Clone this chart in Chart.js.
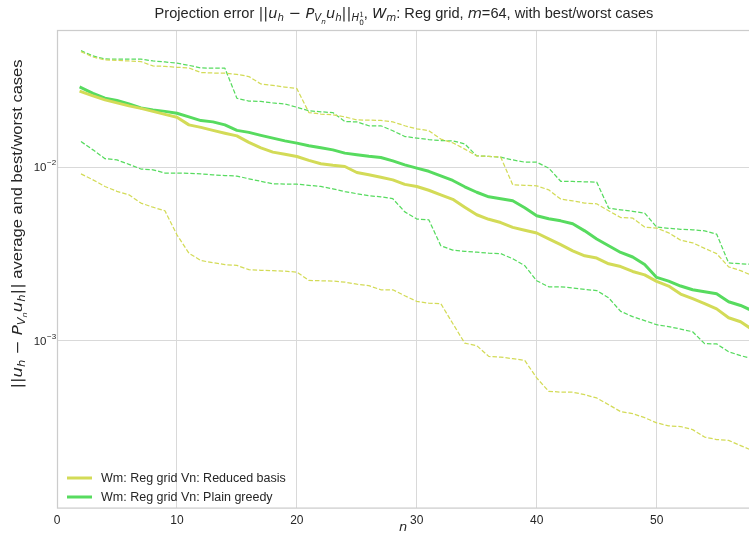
<!DOCTYPE html>
<html><head><meta charset="utf-8">
<script src="https://cdn.jsdelivr.net/npm/chart.js@4.4.0/dist/chart.umd.min.js"></script>
<style>html,body{margin:0;padding:0;background:#fff}#wrap{width:749px;height:534px}</style>
</head><body><div id="wrap"><canvas id="c" width="749" height="534"></canvas></div>
<script>
// ---- data ----
const nValues = [2,3,4,5,6,7,8,9,10,11,12,13,14,15,16,17,18,19,20,21,22,23,24,25,26,27,28,29,30,31,32,33,34,35,36,37,38,39,40,41,42,43,44,45,46,47,48,49,50,51,52,53,54,55,56,57,58];
const rbAvg = [0.0272,0.02569,0.02437,0.02342,0.02251,0.02178,0.02093,0.02011,0.01937,
  0.0175,0.01693,0.01627,0.01568,0.01513,0.01388,0.01291,0.0122,0.01185,0.01151,
  0.01094,0.01045,0.01024,0.01008,0.00931,0.00903,0.00874,0.00845,0.00796,0.00774,
  0.00736,0.00693,0.00653,0.00588,0.00532,0.00501,0.0048,0.0045,0.00433,0.00418,
  0.00387,0.00358,0.0033,0.00309,0.003,0.00278,0.00268,0.00251,0.0024,0.0022,
  0.00207,0.00186,0.00175,0.00164,0.00153,0.00136,0.00129,0.00116];
const pgAvg = [0.02868,0.02656,0.02493,0.0242,0.02311,0.02192,0.02135,0.02093,0.02043,
  0.01945,0.01852,0.01821,0.0175,0.01627,0.01585,0.01523,0.01468,0.01416,0.01374,
  0.01326,0.01291,0.01257,0.01204,0.01177,0.01154,0.01136,0.01087,0.01031,0.00987,
  0.00946,0.00891,0.00838,0.00771,0.00717,0.00675,0.00658,0.0064,0.00584,0.00525,
  0.00505,0.00491,0.00472,0.0043,0.00386,0.00353,0.00323,0.00304,0.00275,0.00232,
  0.00221,0.00207,0.00197,0.00192,0.00187,0.00168,0.0016,0.00149];
const rbWorst = [0.0462,0.0430,0.0414,0.0411,0.0408,0.0405,0.0382,0.0380,0.03754,
  0.0372,0.0350,0.0348,0.0347,0.0342,0.0332,0.0301,0.0295,0.0289,0.0283,
  0.0206,0.0202,0.0200,0.01945,0.0187,0.01862,0.01857,0.0182,0.0173,0.0166,
  0.0162,0.0145,0.0138,0.0127,0.0116,0.01154,0.01141,0.00791,0.00786,0.00781,
  0.0074,0.00655,0.0064,0.00621,0.00615,0.00561,0.00513,0.00509,0.00452,0.00446,
  0.00419,0.0038,0.00367,0.00341,0.00318,0.00267,0.00254,0.00237];
const rbBest = [0.00915,0.00845,0.00774,0.00726,0.00693,0.00621,0.00588,0.00561,0.00408,
  0.0032,0.0029,0.00282,0.00275,0.00272,0.00257,0.00255,0.00254,0.00252,0.00249,
  0.00223,0.00222,0.00221,0.00218,0.00212,0.00208,0.00197,0.00197,0.00182,0.00169,
  0.00165,0.00164,0.00126,0.000971,0.00094,0.000815,0.000807,0.000791,0.000773,0.000613,
  0.000513,0.000508,0.000507,0.000491,0.00047,0.00043,0.000392,0.000382,0.000362,0.000338,
  0.000325,0.000322,0.000309,0.00028,0.000271,0.000268,0.00025,0.000234];
const pgWorst = [0.0468,0.0436,0.0419,0.0418,0.0418,0.0418,0.0408,0.0403,0.0396,
  0.0385,0.0372,0.0371,0.0371,0.0249,0.0240,0.0239,0.0234,0.0231,0.0221,
  0.0211,0.0208,0.0206,0.0183,0.0182,0.0173,0.0173,0.0162,0.0150,0.0147,
  0.0144,0.0142,0.01416,0.0136,0.0116,0.01154,0.01141,0.0110,0.01068,0.01068,
  0.00987,0.00829,0.00827,0.00823,0.0082,0.00581,0.00568,0.00557,0.00544,0.00452,
  0.00445,0.00439,0.00436,0.0043,0.00412,0.00281,0.00278,0.00276];
const pgBest = [0.01403,0.01257,0.01119,0.0110,0.01038,0.00975,0.00965,0.00924,0.00924,
  0.00921,0.00915,0.00903,0.00895,0.00888,0.00857,0.00829,0.00802,0.00799,0.00798,
  0.00786,0.00774,0.0075,0.00724,0.00703,0.00684,0.00675,0.00658,0.00553,0.00503,
  0.00498,0.00353,0.00333,0.00328,0.00324,0.0032,0.00318,0.00297,0.00271,0.00222,
  0.00205,0.00205,0.00202,0.00198,0.00195,0.00177,0.00148,0.00138,0.00131,0.00124,
  0.00121,0.00117,0.00113,0.000965,0.000962,0.000868,0.000823,0.000791];
const xTicks = [0,10,20,30,40,50];
const yTicks = [1e-3, 1e-2];
const yTickExps = ['−3','−2'];
const legendLabels = ['Wm: Reg grid Vn: Reduced basis', 'Wm: Reg grid Vn: Plain greedy'];
const xLabel = 'n';

const RB = '#d3db57', PG = '#57db5f';
const TXT = '#262626', GRID = '#d9d9d9';
const SANS = '"Liberation Sans", Arial, sans-serif';
const MATH = '"DejaVu Sans", sans-serif';

const pts = arr => arr.map((v, i) => ({x: nValues[i], y: v}));
function line(label, arr, color, solid) {
  return {label, data: pts(arr), borderColor: color, backgroundColor: color,
    borderWidth: solid ? 3 : 1.25, borderDash: solid ? [] : [4.5, 2],
    pointRadius: 0, tension: 0, fill: false, borderJoinStyle: 'round', borderCapStyle: solid ? 'square' : 'butt'};
}

// rich text (mathtext-like)
function segFont(s, base) {
  const size = base * (s.sc || 1);
  return (s.it ? 'italic ' : '') + size + 'px ' + (s.m ? MATH : SANS);
}
function richWidth(ctx, segs, base) {
  let w = 0;
  for (const s of segs) {
    if (s.stack) {
      let mw = 0;
      for (const p of s.stack) { ctx.font = segFont(p, base); mw = Math.max(mw, ctx.measureText(p.t).width); }
      w += mw;
    } else { ctx.font = segFont(s, base); w += ctx.measureText(s.t).width; }
  }
  return w;
}
function drawRich(ctx, segs, x, y, base) {
  let cx = x;
  ctx.textAlign = 'left'; ctx.textBaseline = 'alphabetic';
  for (const s of segs) {
    if (s.stack) {
      let mw = 0;
      for (const p of s.stack) {
        ctx.font = segFont(p, base);
        ctx.fillText(p.t, cx, y + (p.dy || 0) * base);
        mw = Math.max(mw, ctx.measureText(p.t).width);
      }
      cx += mw;
    } else {
      ctx.font = segFont(s, base);
      ctx.fillText(s.t, cx, y + (s.dy || 0) * base);
      cx += ctx.measureText(s.t).width;
    }
  }
}
const normExpr = [
  {t: '||', m: 1},
  {t: 'u', it: 1, m: 1}, {t: 'h', it: 1, m: 1, sc: 0.7, dy: 0.22},
  {t: ' − ', m: 1},
  {t: 'P', it: 1, m: 1}, {t: 'V', it: 1, m: 1, sc: 0.7, dy: 0.22}, {t: 'n', it: 1, m: 1, sc: 0.5, dy: 0.4},
  {t: 'u', it: 1, m: 1}, {t: 'h', it: 1, m: 1, sc: 0.7, dy: 0.22},
  {t: '||', m: 1}
];
const titleSegs = [
  {t: 'Projection error '},
  ...normExpr,
  {t: 'H', it: 1, m: 1, sc: 0.7, dy: 0.22},
  {stack: [{t: '1', m: 1, sc: 0.5, dy: -0.05}, {t: '0', m: 1, sc: 0.5, dy: 0.45}]},
  {t: ', '},
  {t: 'W', it: 1, m: 1}, {t: 'm', it: 1, m: 1, sc: 0.7, dy: 0.22},
  {t: ': Reg grid, '},
  {t: 'm', it: 1, m: 1},
  {t: '=64, with best/worst cases'}
];
const ylabelSegs = [...normExpr, {t: ' average and best/worst cases'}];

const deco = {
  id: 'deco',
  afterDatasetsDraw(chart) {
    const ctx = chart.ctx, a = chart.chartArea;
    ctx.save();
    // frame
    ctx.strokeStyle = '#cccccc'; ctx.lineWidth = 1.25;
    ctx.strokeRect(a.left + 0.5, a.top + 0.5, a.right - a.left + 2, a.bottom - a.top);
    ctx.fillStyle = TXT;
    // y tick labels
    const ys = chart.scales.y;
    yTicks.forEach((v, i) => {
      const py = ys.getPixelForValue(v);
      ctx.font = '11.5px ' + SANS; ctx.textBaseline = 'middle'; ctx.textAlign = 'right';
      ctx.fillText('10', 46.5, py + 1);
      ctx.font = '8px ' + SANS; ctx.textAlign = 'left';
      ctx.fillText(yTickExps[i], 47, py - 4);
    });
    // title
    const tb = 14.6;
    const tw = richWidth(ctx, titleSegs, tb);
    ctx.fillStyle = TXT;
    drawRich(ctx, titleSegs, 404 - tw / 2, 18, tb);
    // y label (stretched along its length to the reference extent)
    ctx.save();
    ctx.translate(21.5, 224); ctx.rotate(-Math.PI / 2);
    const lb = 14;
    const lw = richWidth(ctx, ylabelSegs, lb);
    const stretch = 329 / lw;
    ctx.scale(stretch, 1);
    drawRich(ctx, ylabelSegs, -lw / 2, 0, lb);
    ctx.restore();
    // x label
    ctx.font = 'italic 13px ' + MATH; ctx.textAlign = 'center'; ctx.textBaseline = 'middle';
    ctx.fillText(xLabel, 403, 528);
    // legend
    const items = [[RB, legendLabels[0], 478], [PG, legendLabels[1], 497]];
    for (const [c, t, y] of items) {
      ctx.strokeStyle = c; ctx.lineWidth = 3; ctx.setLineDash([]); ctx.lineCap = 'butt';
      ctx.beginPath(); ctx.moveTo(67, y); ctx.lineTo(92, y); ctx.stroke();
      ctx.fillStyle = TXT; ctx.font = '12.5px ' + SANS; ctx.textAlign = 'left'; ctx.textBaseline = 'middle';
      ctx.fillText(t, 101, y + 0.5);
    }
    ctx.restore();
  }
};

new Chart(document.getElementById('c'), {
  type: 'line',
  data: {datasets: [
    line('RB best', rbBest, RB, false),
    line('RB worst', rbWorst, RB, false),
    line('PG best', pgBest, PG, false),
    line('PG worst', pgWorst, PG, false),
    line(legendLabels[0], rbAvg, RB, true),
    line(legendLabels[1], pgAvg, PG, true)
  ]},
  options: {
    responsive: false, animation: false, devicePixelRatio: 1,
    layout: {padding: {left: 57, top: 30, right: 0, bottom: 0}},
    plugins: {legend: {display: false}, title: {display: false}, tooltip: {enabled: false}},
    scales: {
      x: {type: 'linear', min: 0, max: 57.7,
        afterBuildTicks: s => { s.ticks = xTicks.map(v => ({value: v})); },
        grid: {color: GRID, lineWidth: 1, drawTicks: false},
        border: {display: false},
        ticks: {color: TXT, font: {family: SANS, size: 12}, padding: 6, maxRotation: 0}
      },
      y: {type: 'logarithmic', min: 1.10e-4, max: 0.0615,
        afterBuildTicks: s => { s.ticks = yTicks.map(v => ({value: v})); },
        grid: {color: GRID, lineWidth: 1, drawTicks: false},
        border: {display: false},
        ticks: {display: false}
      }
    }
  },
  plugins: [deco]
});
</script></body></html>
